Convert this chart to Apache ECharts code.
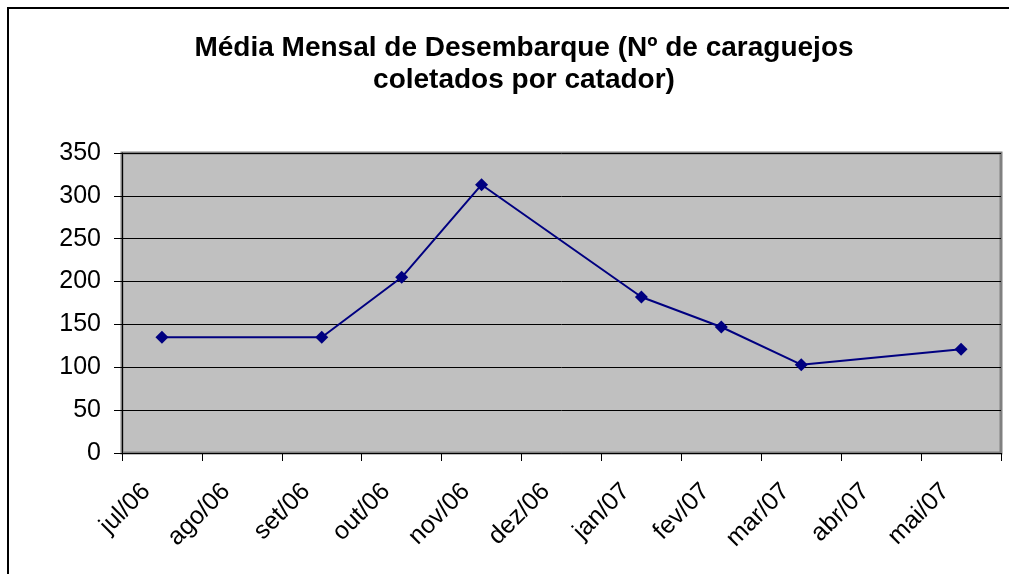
<!DOCTYPE html>
<html>
<head>
<meta charset="utf-8">
<script src="https://cdn.jsdelivr.net/npm/echarts@6/dist/echarts.min.js"></script>
<style>
  html, body { margin: 0; padding: 0; background: #fff; }
  #main { width: 1009px; height: 574px; }
</style>
</head>
<body>
<div id="main"></div>
<script>
// months on the category axis
const months = ['jul/06', 'ago/06', 'set/06', 'out/06', 'nov/06', 'dez/06',
                'jan/07', 'fev/07', 'mar/07', 'abr/07', 'mai/07'];
// monthly mean landing (null = no sample that month)
const landings = [135, null, 135, 205, 313, null, 182, 147, 103, null, 121];
const titleText = 'Média Mensal de Desembarque (Nº de caraguejos\ncoletados por catador)';

const chart = echarts.init(document.getElementById('main'));

const option = {
    backgroundColor: '#fff',
    animation: false,
    title: {
        text: titleText,
        left: 519,
        top: 27,
        textAlign: 'center',
        textStyle: {
            fontFamily: 'Liberation Sans, Arial, sans-serif',
            fontWeight: 'bold',
            fontSize: 28,
            lineHeight: 32,
            color: '#000'
        }
    },
    graphic: [{
        type: 'polyline',
        shape: { points: [[8, 574], [8, 8], [1009, 8]] },
        style: { stroke: '#000', lineWidth: 2, fill: null },
        silent: true
    }],
    grid: {
        left: 122,
        top: 153,
        right: 8,
        bottom: 121,
        show: true,
        backgroundColor: '#c0c0c0',
        borderColor: '#808080',
        borderWidth: 3
    },
    xAxis: {
        type: 'category',
        data: months,
        boundaryGap: true,
        axisLine: { lineStyle: { color: '#000', width: 1 } },
        axisTick: { show: true, length: 8, inside: false, lineStyle: { color: '#000' } },
        axisLabel: {
            rotate: 45,
            margin: 19,
            interval: 0,
            padding: [0, 22, 0, 0],
            color: '#000',
            fontFamily: 'Liberation Sans, Arial, sans-serif',
            fontSize: 25
        }
    },
    yAxis: {
        type: 'value',
        min: 0,
        max: 350,
        interval: 50,
        axisLine: { show: true, lineStyle: { color: '#000', width: 1 } },
        axisTick: { show: true, length: 8, lineStyle: { color: '#000' } },
        splitLine: { show: true, lineStyle: { color: '#000', width: 1 } },
        axisLabel: {
            margin: 21,
            color: '#000',
            fontFamily: 'Liberation Sans, Arial, sans-serif',
            fontSize: 25
        }
    },
    series: [{
        type: 'line',
        data: landings,
        connectNulls: true,
        symbol: 'diamond',
        symbolSize: 13,
        lineStyle: { color: '#000080', width: 2 },
        itemStyle: { color: '#000080' }
    }]
};

chart.setOption(option);
</script>
</body>
</html>
